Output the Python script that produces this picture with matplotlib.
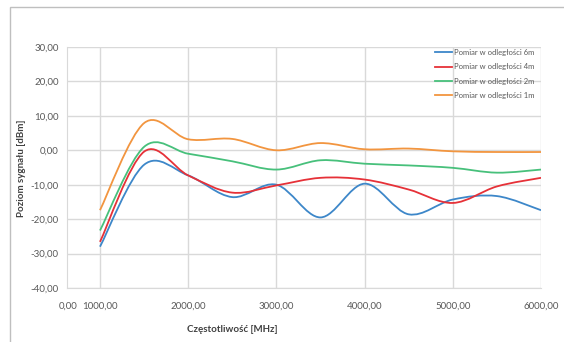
import matplotlib.pyplot as plt
from matplotlib.path import Path
from matplotlib.patches import PathPatch, Rectangle
from matplotlib.lines import Line2D
import numpy as np

plt.rcParams['font.family'] = ['Lato', 'DejaVu Sans']

freq = [1000, 1500, 2000, 2500, 3000, 3500, 4000, 4500, 5000, 5500, 6000]
pomiar_6m = [-28.0, -4.2, -7.3, -13.6, -10.0, -19.5, -9.7, -18.6, -14.3, -13.3, -17.4]
pomiar_4m = [-26.6, -0.4, -7.3, -12.3, -10.2, -8.0, -8.5, -11.4, -15.3, -10.5, -8.0]
pomiar_2m = [-23.3, 1.0, -1.0, -3.2, -5.6, -2.9, -3.9, -4.4, -5.1, -6.5, -5.6]
pomiar_1m = [-17.4, 7.9, 3.2, 3.3, 0.0, 2.1, 0.3, 0.5, -0.3, -0.5, -0.5]

serie = [
    ("Pomiar w odległości 6m", pomiar_6m, "#3d87c9"),
    ("Pomiar w odległości 4m", pomiar_4m, "#e63138"),
    ("Pomiar w odległości 2m", pomiar_2m, "#47c07b"),
    ("Pomiar w odległości 1m", pomiar_1m, "#f2953f"),
]

yticks = [-40, -30, -20, -10, 0, 10, 20, 30]
xticks = [1000, 2000, 3000, 4000, 5000, 6000]


def gladka(x, y):
    # wygładzanie jak w Excelu (krzywe Beziera)
    x = np.asarray(x, float)
    y = np.asarray(y, float)
    n = len(x)
    verts = [(x[0], y[0])]
    codes = [Path.MOVETO]
    for i in range(n - 1):
        i0 = max(i - 1, 0)
        i3 = min(i + 2, n - 1)
        c1 = (x[i] + (x[i + 1] - x[i0]) / 6, y[i] + (y[i + 1] - y[i0]) / 6)
        c2 = (x[i + 1] - (x[i3] - x[i]) / 6, y[i + 1] - (y[i3] - y[i]) / 6)
        verts += [c1, c2, (x[i + 1], y[i + 1])]
        codes += [Path.CURVE4] * 3
    return Path(verts, codes)


fig = plt.figure(figsize=(5.64, 3.42), dpi=100)
ax = fig.add_axes([67 / 564, 1 - 288 / 342, (541 - 67) / 564, (288 - 47) / 342])

# ramka wykresu
fig.patches.append(Rectangle((10 / 564, -0.1), 1.2, 1 - 7 / 342 + 0.1,
                             transform=fig.transFigure, fill=False,
                             edgecolor="#bfbfbf", linewidth=1))

uchwyty = []
for nazwa, wart, kolor in serie:
    ax.add_patch(PathPatch(gladka(freq, wart), fill=False, edgecolor=kolor, linewidth=1.3, zorder=3))
    uchwyty.append(Line2D([], [], color=kolor, linewidth=1.3, label=nazwa))

ax.set_xlim(626, 6000)
ax.set_ylim(-40, 30)
ax.set_xticks(xticks)
ax.set_yticks(yticks)
ax.set_xticklabels([f"{t:.2f}".replace(".", ",") for t in xticks])
ax.set_yticklabels([f"{t:.2f}".replace(".", ",") for t in yticks])
ax.tick_params(length=0, labelsize=7, labelcolor="#595959", pad=6)
ax.tick_params(axis="x", pad=10)
ax.grid(color="#d9d9d9", linewidth=1)
ax.set_axisbelow(True)
for s in ax.spines.values():
    s.set_visible(False)
ax.spines['left'].set_visible(True)
ax.spines['left'].set_color("#d9d9d9")
ax.spines['bottom'].set_visible(True)
ax.spines['bottom'].set_color("#d9d9d9")

# etykieta "0,00" na lewym końcu osi X, jak w oryginale
fig.text(68 / 564, 1 - 302 / 342, "0,00", fontsize=7, color="#595959", ha="center", va="top")

fig.text(232 / 564, 1 - 330 / 342, "Częstotliwość [MHz]", fontsize=7, fontweight="bold",
         color="#404040", ha="center", va="center")
fig.text(22 / 564, 1 - 168 / 342, "Poziom sygnału [dBm]", fontsize=7, fontweight="bold",
         color="#404040", ha="center", va="center", rotation=90)

leg = ax.legend(handles=uchwyty, loc="upper right", bbox_to_anchor=(1.0, 1.02), frameon=False,
                fontsize=5.5, handlelength=2.2, handletextpad=0.2, labelspacing=0.95)
for t in leg.get_texts():
    t.set_color("#595959")

fig.savefig("out.png", dpi=100)
